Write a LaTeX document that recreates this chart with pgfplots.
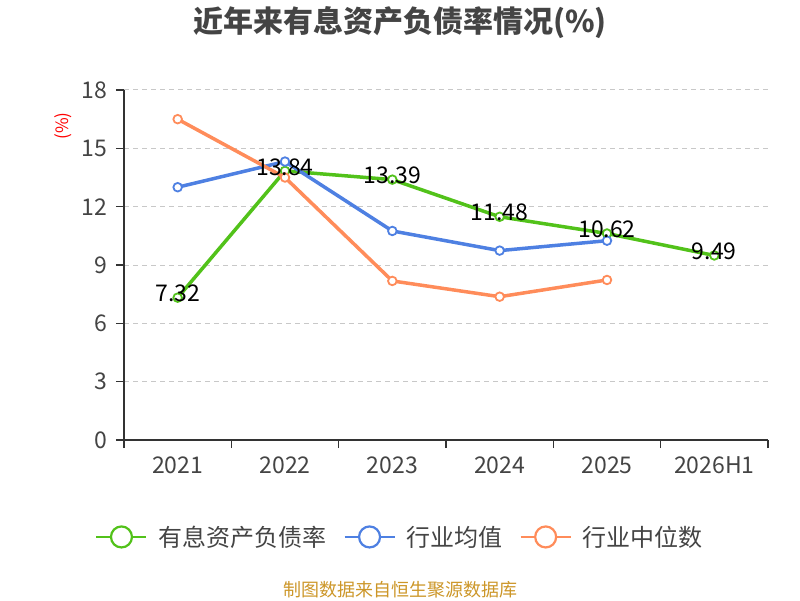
\documentclass[border=0pt]{standalone}
\usepackage{fontspec}
\setmainfont{Noto Sans CJK SC}
\usepackage{pgfplots}
\pgfplotsset{compat=1.18}
\definecolor{cgreen}{RGB}{82,194,26}
\definecolor{cblue}{RGB}{78,128,226}
\definecolor{corange}{RGB}{255,140,90}
\definecolor{axgray}{RGB}{51,51,51}
\definecolor{txtgray}{RGB}{68,68,68}
\definecolor{gridgray}{RGB}{200,200,200}
\definecolor{srcgold}{RGB}{204,150,40}
\begin{document}
\begin{tikzpicture}
\path[use as bounding box] (0pt,0pt) rectangle (800pt,600pt);
\node[font=\fontsize{30}{36}\selectfont\bfseries, text=txtgray] at (400pt,577pt) {近年来有息资产负债率情况(\%)};
\node[font=\fontsize{17}{20}\selectfont, text=red, rotate=90] at (63pt,474pt) {(\%)};
\node[font=\fontsize{18}{22}\selectfont, text=srcgold] at (400pt,10pt) {制图数据来自恒生聚源数据库};
\begin{axis}[
  at={(124pt,160pt)}, anchor=south west,
  scale only axis, width=644pt, height=350pt,
  xmin=-0.5, xmax=5.5, ymin=0, ymax=18,
  ytick={0,3,...,18},
  xtick={-0.5,0.5,...,5.5},
  xticklabels={2021,2022,2023,2024,2025,2026H1,{}},
  xticklabel style={xshift=53.67pt, yshift=-5pt},
  yticklabel style={xshift=-5pt},
  axis lines=left,
  axis line style={-, color=axgray, line width=1.3pt},
  tick align=outside,
  major tick length=8pt,
  tick style={color=axgray, line width=1.3pt},
  ymajorgrids,
  grid style={gridgray, line width=1pt, dash pattern=on 5pt off 4pt},
  tick label style={font=\fontsize{23}{27}\selectfont, text=txtgray},
  /pgf/number format/assume math mode=true,
  clip=false,
  legend columns=3,
  legend style={at={(0.4286,-0.277)}, anchor=center, draw=none, fill=none,
    font=\fontsize{24}{28}\selectfont, text=txtgray,
    /tikz/every even column/.append style={column sep=15pt},
    inner sep=0pt},
  legend cell align=left,
  legend image code/.code={
    \path[draw=none, fill=none] (0pt,0pt) (60pt,0pt);
    \draw[#1, line width=2.2pt] (0pt,0pt) -- (50pt,0pt);
    \draw[#1, line width=2.2pt, fill=white] (25pt,0pt) circle (10.5pt);
  },
]
\addplot[cgreen, line width=3.5pt, mark=*, mark size=4.3pt, mark options={fill=white, line width=1.8pt}]
  coordinates {(0,7.32) (1,13.84) (2,13.39) (3,11.48) (4,10.62) (5,9.49)};
\addlegendentry{有息资产负债率}
\addplot[cblue, line width=3.5pt, mark=*, mark size=4.3pt, mark options={fill=white, line width=1.8pt}]
  coordinates {(0,13.0) (1,14.32) (2,10.75) (3,9.74) (4,10.25)};
\addlegendentry{行业均值}
\addplot[corange, line width=3.5pt, mark=*, mark size=4.3pt, mark options={fill=white, line width=1.8pt}]
  coordinates {(0,16.5) (1,13.5) (2,8.18) (3,7.37) (4,8.23)};
\addlegendentry{行业中位数}
\addplot[draw=none, mark=none, forget plot,
  point meta=explicit symbolic,
  nodes near coords,
  nodes near coords style={anchor=center, yshift=4pt, font=\fontsize{23}{27}\selectfont, text=black}]
  coordinates {(0,7.32) [7.32] (1,13.84) [13.84] (2,13.39) [13.39] (3,11.48) [11.48] (4,10.62) [10.62] (5,9.49) [9.49]};
\end{axis}
\end{tikzpicture}
\end{document}
